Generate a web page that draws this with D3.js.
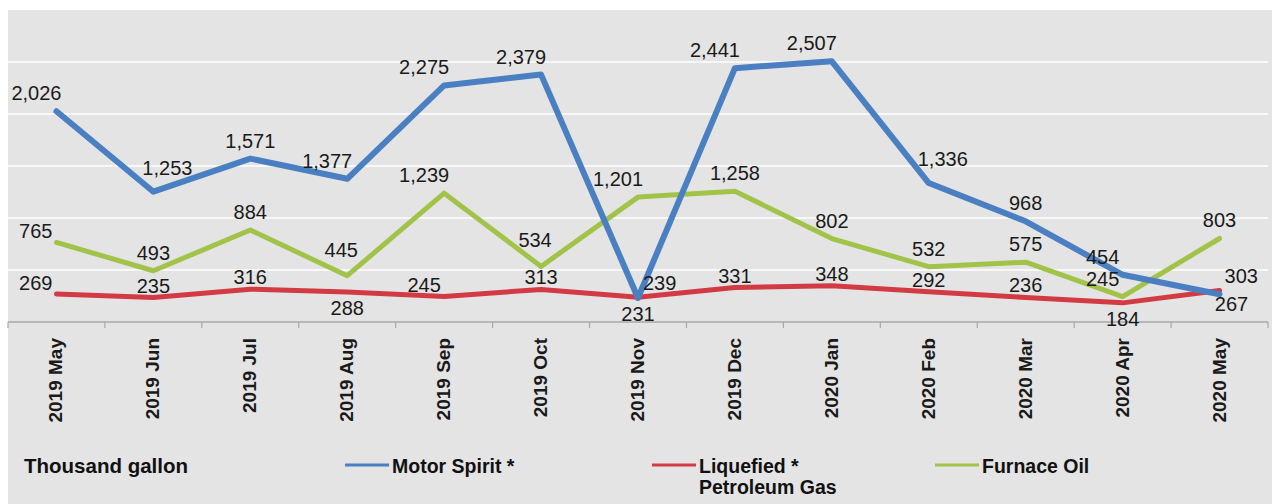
<!DOCTYPE html>
<html>
<head>
<meta charset="utf-8">
<script src="https://cdn.jsdelivr.net/npm/d3@7"></script>
<style>
  body { margin: 0; background: #fff; }
  svg { display: block; }
</style>
</head>
<body>
<svg></svg>
<script>
// Months on the x axis
let months = ['2019 May', '2019 Jun', '2019 Jul', '2019 Aug', '2019 Sep', '2019 Oct',
  '2019 Nov', '2019 Dec', '2020 Jan', '2020 Feb', '2020 Mar', '2020 Apr', '2020 May'];

// Series values (thousand gallon)
let motorSpirit = [2026, 1253, 1571, 1377, 2275, 2379, 231, 2441, 2507, 1336, 968, 454, 267];
let lpg = [269, 235, 316, 288, 245, 313, 239, 331, 348, 292, 236, 184, 303];
let furnaceOil = [765, 493, 884, 445, 1239, 534, 1201, 1258, 802, 532, 575, 245, 803];

// Where each value label sits relative to its point
let motorPlace = ['aboveLeft', 'aboveRight', 'above', 'aboveLeft', 'aboveLeft', 'aboveLeft', 'below',
  'aboveLeft', 'aboveLeft', 'aboveRight', 'above', 'aboveLeft', 'belowRight'];
let lpgPlace = ['left', 'above', 'above', 'below', 'aboveLeft', 'above', 'right',
  'above', 'above', 'above', 'above', 'below', 'right'];
let oilPlace = ['left', 'above', 'above', 'high', 'aboveLeft', 'high', 'aboveLeft',
  'above', 'above', 'above', 'above', 'aboveLeft', 'above'];

let yTicks = [0, 500, 1000, 1500, 2000, 2500, 3000];

let series = [
  { name: 'Motor Spirit *', values: motorSpirit, place: motorPlace, color: '#4a7fc1', width: 6, gap: 11 },
  { name: 'Furnace Oil', values: furnaceOil, place: oilPlace, color: '#a2c349', width: 5, gap: 11 },
  { name: 'Liquefied *', name2: 'Petroleum Gas', values: lpg, place: lpgPlace, color: '#d33b44', width: 5, gap: 5 }
];

let svgWidth = 1278;
let svgHeight = 504;

// Plot area inside the grey panel
let margin = { top: 10, right: 10, bottom: 182, left: 8 };
let width = svgWidth - margin.left - margin.right;
let height = svgHeight - margin.top - margin.bottom;

let svg = d3.select('svg')
  .attr('width', svgWidth)
  .attr('height', svgHeight)
  .style('font-family', 'Arial, "Liberation Sans", sans-serif');

// Grey background panel
svg.append('rect')
  .attr('x', 8)
  .attr('y', 10)
  .attr('width', 1264)
  .attr('height', svgHeight - 10)
  .attr('fill', '#e4e4e4');

let g = svg.append('g')
  .attr('transform', 'translate(' + margin.left + ', ' + margin.top + ')');

// Scales
let xBand = d3.scaleBand()
  .domain(months)
  .range([0, width]);

let x = d => xBand(d) + xBand.bandwidth() / 2;

let yScale = d3.scaleLinear()
  .domain([0, 3000])
  .range([height, 0]);

// Horizontal grid lines
g.selectAll('.grid')
  .data(yTicks.slice(1, -1))
  .enter()
  .append('line')
  .attr('class', 'grid')
  .attr('x1', 0)
  .attr('x2', width)
  .attr('y1', d => yScale(d))
  .attr('y2', d => yScale(d))
  .attr('stroke', '#ffffff')
  .attr('stroke-width', 1.5);

// x axis: ticks on band edges, rotated bold labels
g.append('line')
  .attr('x1', 0)
  .attr('x2', width)
  .attr('y1', height)
  .attr('y2', height)
  .attr('stroke', '#a8a8a8')
  .attr('stroke-width', 1.5);

g.selectAll('.tick-mark')
  .data(d3.range(months.length + 1))
  .enter()
  .append('line')
  .attr('class', 'tick-mark')
  .attr('x1', i => i * xBand.step())
  .attr('x2', i => i * xBand.step())
  .attr('y1', height)
  .attr('y2', height + 6)
  .attr('stroke', '#a8a8a8')
  .attr('stroke-width', 1.2);

g.selectAll('.x-label')
  .data(months)
  .enter()
  .append('text')
  .attr('class', 'x-label')
  .attr('transform', d => 'translate(' + (x(d) + 6) + ', ' + (height + 16) + ') rotate(-90)')
  .attr('text-anchor', 'end')
  .attr('font-size', '19px')
  .attr('font-weight', 'bold')
  .attr('fill', '#1a1a1a')
  .text(d => d);

// Lines
let line = d3.line()
  .x((d, i) => x(months[i]))
  .y(d => yScale(d));

// Draw LPG first so blue and green sit on top where they cross
let drawOrder = [series[2], series[1], series[0]];

g.selectAll('.series-line')
  .data(drawOrder)
  .enter()
  .append('path')
  .attr('class', 'series-line')
  .attr('d', d => line(d.values))
  .attr('fill', 'none')
  .attr('stroke', d => d.color)
  .attr('stroke-width', d => d.width)
  .attr('stroke-linejoin', 'round')
  .attr('stroke-linecap', 'round');

// Value labels
let fmt = d3.format(',');

// Shift and anchor for each placement keyword (null dy = use the series gap)
let placeDx = { above: 0, aboveLeft: -20, aboveRight: 14, high: -6, below: 0, belowRight: 12, left: -4, right: 5 };
let placeDy = { above: null, aboveLeft: null, aboveRight: -17, high: -19, below: 23, belowRight: 17, left: -4, right: -7 };
let placeAnchor = { left: 'end', right: 'start' };

for (let s of series) {
  g.selectAll(null)
    .data(s.values)
    .enter()
    .append('text')
    .attr('x', (d, i) => x(months[i]) + placeDx[s.place[i]])
    .attr('y', (d, i) => {
      let dy = placeDy[s.place[i]];
      return yScale(d) + (dy === null ? -s.gap : dy);
    })
    .attr('text-anchor', (d, i) => placeAnchor[s.place[i]] || 'middle')
    .attr('font-size', '20px')
    .attr('fill', '#1a1a1a')
    .text(d => fmt(d));
}

// Legend
svg.append('text')
  .attr('x', 24)
  .attr('y', 473)
  .attr('font-size', '20.5px')
  .attr('font-weight', 'bold')
  .attr('fill', '#111')
  .text('Thousand gallon');

let legendItems = [
  { s: series[0], x: 345 },
  { s: series[2], x: 652 },
  { s: series[1], x: 935 }
];

let legend = svg.selectAll('.legend')
  .data(legendItems)
  .enter()
  .append('g')
  .attr('class', 'legend')
  .attr('transform', d => 'translate(' + d.x + ', 465)');

legend.append('line')
  .attr('x1', 0)
  .attr('x2', 44)
  .attr('stroke', d => d.s.color)
  .attr('stroke-width', 3);

legend.append('text')
  .attr('x', 47)
  .attr('y', 8)
  .attr('font-size', '19.5px')
  .attr('font-weight', 'bold')
  .attr('fill', '#111')
  .text(d => d.s.name);

legend.filter(d => d.s.name2)
  .append('text')
  .attr('x', 47)
  .attr('y', 29)
  .attr('font-size', '19.5px')
  .attr('font-weight', 'bold')
  .attr('fill', '#111')
  .text(d => d.s.name2);
</script>
</body>
</html>
